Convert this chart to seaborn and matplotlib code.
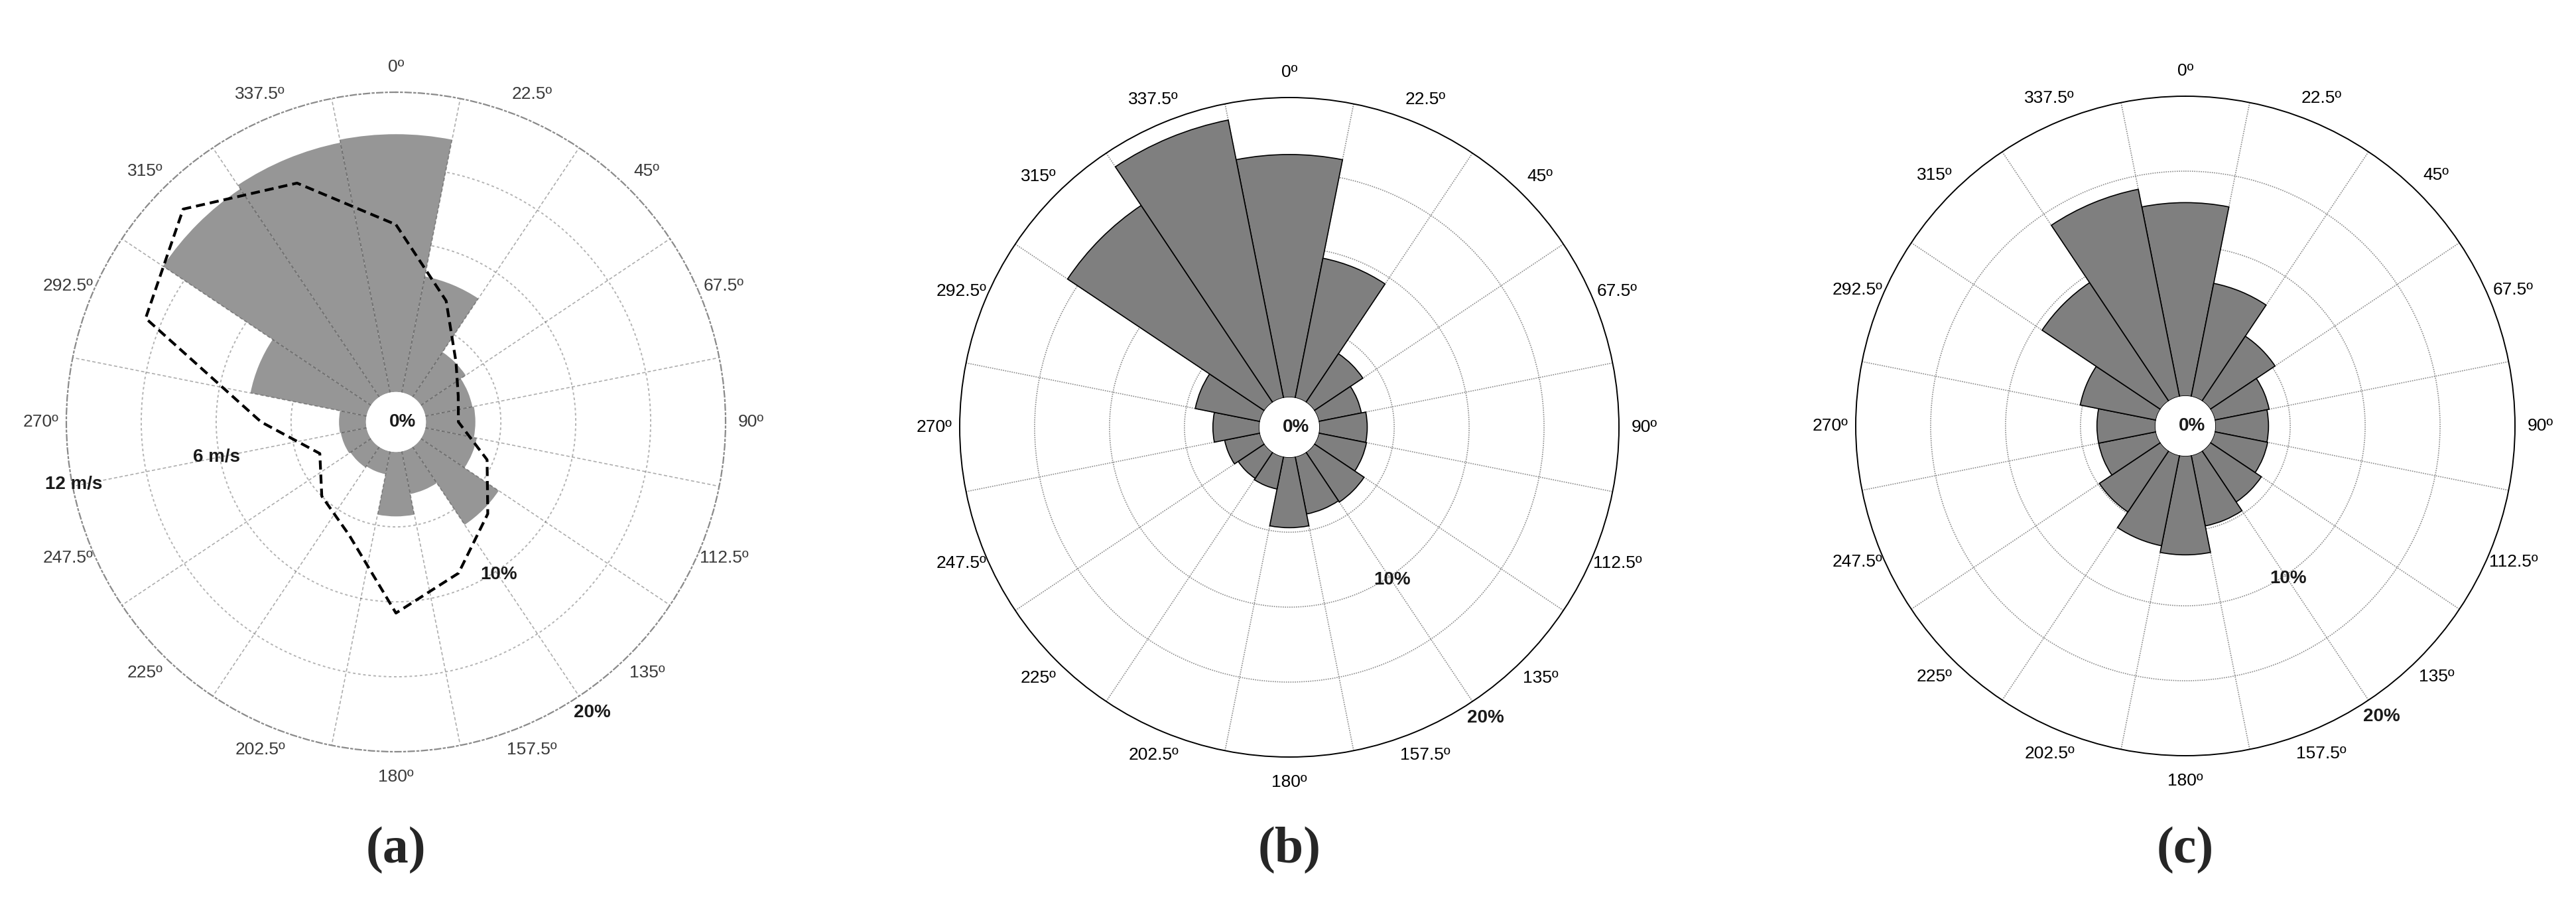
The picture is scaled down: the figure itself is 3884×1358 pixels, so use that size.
import numpy as np
import matplotlib
matplotlib.use("Agg")
import matplotlib.pyplot as plt
import seaborn as sns

# ==========================
# Data
# ==========================

directions = [0, 22.5, 45, 67.5, 90, 112.5, 135, 157.5,
              180, 202.5, 225, 247.5, 270, 292.5, 315, 337.5]
dir_labels = ['0º', '22.5º', '45º', '67.5º', '90º', '112.5º', '135º', '157.5º',
              '180º', '202.5º', '225º', '247.5º', '270º', '292.5º', '315º', '337.5º']

# frequency of occurrence (%) per direction sector
freq_a = [17.2, 7.9, 3.6, 3.2, 3.3, 3.5, 6.25, 2.9,
          4.3, 1.55, 1.65, 1.75, 1.8, 7.9, 16.7, 17.0]
freq_b = [16.2, 9.5, 3.9, 2.9, 3.2, 3.25, 4.0, 3.9,
          4.7, 2.2, 2.1, 2.4, 3.1, 4.4, 15.8, 18.9]
freq_c = [12.9, 7.7, 5.2, 3.7, 3.55, 3.6, 4.1, 4.8,
          6.6, 6.15, 4.9, 3.9, 3.9, 5.15, 9.5, 14.1]

# mean wind speed (m/s) per direction, panel (a)
speed_a = [6.7, 4.05, 2.2, 1.5, 1.3, 2.75, 4.0, 5.35,
           6.45, 3.7, 3.0, 2.1, 4.2, 9.65, 10.85, 9.15]

ring_ticks = [5, 10, 15]
pct_labels = ['10%', '20%']
pct_label_r = [10.3, 21.4]
speed_labels = ['6 m/s', '12 m/s']
speed_label_r = [10.2, 19.9]
captions = ['(a)', '(b)', '(c)']

# ==========================
# Figure
# ==========================

sns.set_theme(style="white")
plt.rcParams['font.family'] = ['Liberation Sans', 'DejaVu Sans']

fig = plt.figure(figsize=(19.42, 6.79), dpi=200)

theta = np.deg2rad(directions)
width = np.deg2rad(22.5)
w, h = 994 / 3884, 994 / 1358

boxes = [(100 / 3884, 225 / 1358), (1447 / 3884, 217 / 1358), (2798 / 3884, 219 / 1358)]
freqs = [freq_a, freq_b, freq_c]

for i, (box, freq) in enumerate(zip(boxes, freqs)):
    ax = fig.add_axes([box[0], box[1], w, h], projection='polar')
    ax.set_theta_zero_location('N')
    ax.set_theta_direction(-1)
    ax.set_ylim(0, 20)
    ax.set_rorigin(-2)

    style_a = (i == 0)
    txt_color = '#3a3a3a' if style_a else 'black'

    ax.set_axisbelow(True)
    if style_a:
        ax.bar(theta, freq, width=width, bottom=0, color='#969696',
               edgecolor='none', linewidth=0, zorder=1)
    else:
        ax.bar(theta, freq, width=width, bottom=0, color='#7f7f7f',
               edgecolor='black', linewidth=0.6, zorder=1)

    ax.set_xticks(theta)
    ax.set_xticklabels(dir_labels)
    ax.set_xticks(theta + width / 2, minor=True)
    ax.set_yticks(ring_ticks)
    ax.set_yticklabels([])
    ax.tick_params(axis='x', which='both', length=0, pad=6.7,
                   labelsize=9.5, labelcolor=txt_color)
    ax.tick_params(axis='y', length=0)

    ax.xaxis.grid(False, which='major')
    if style_a:
        ax.yaxis.grid(True, color='#b4b4b4', linestyle=(0, (2, 2)), linewidth=0.7)
        # spokes drawn over the bars
        ax.vlines(theta + width / 2, 0, 20, colors='black', alpha=0.32,
                  linestyles=(0, (3, 2)), linewidth=0.6, zorder=2)
        ax.spines['polar'].set_color('#8a8a8a')
        ax.spines['polar'].set_linestyle((0, (4, 2, 1, 2)))
        ax.spines['polar'].set_linewidth(0.8)
    else:
        ax.xaxis.grid(True, which='minor', color='#8c8c8c',
                      linestyle=(0, (1, 1)), linewidth=0.6)
        ax.yaxis.grid(True, color='#8c8c8c', linestyle=(0, (1, 1)), linewidth=0.6)
        ax.spines['polar'].set_color('black')
        ax.spines['polar'].set_linewidth(0.7)
    # hide the circle drawn at the hole edge
    ax.spines['inner'].set_linewidth(0)
    ax.spines['inner'].set_edgecolor('none')

    # radial (%) labels
    for lab, r in zip(pct_labels, pct_label_r):
        ax.text(np.deg2rad(146), r, lab, ha='center', va='center',
                fontsize=10, fontweight='bold', color='#1a1a1a')
    ax.text(0.51, 0.5, '0%', transform=ax.transAxes, ha='center', va='center',
            fontsize=10, fontweight='bold', color='#1a1a1a')

    if style_a:
        sp = np.array(speed_a) * 20 / 12
        t_closed = np.append(theta, theta[0])
        r_closed = np.append(sp, sp[0])
        sns.lineplot(x=t_closed, y=r_closed, sort=False, estimator=None, ax=ax,
                     color='black', linewidth=1.5, linestyle=(0, (3.3, 1.8)),
                     zorder=3)
        ax.set_xlabel('')
        ax.set_ylabel('')
        for lab, r in zip(speed_labels, speed_label_r):
            ax.text(np.deg2rad(259), r, lab, ha='center', va='center',
                    fontsize=10, fontweight='bold', color='#1a1a1a', zorder=4)
        ax.set_ylim(0, 20)

    fig.text(box[0] + w / 2, 0.056, captions[i], ha='center', va='center',
             fontsize=28, fontweight='bold', family='Liberation Serif')

fig.savefig('out.png', dpi=200, facecolor='white')
